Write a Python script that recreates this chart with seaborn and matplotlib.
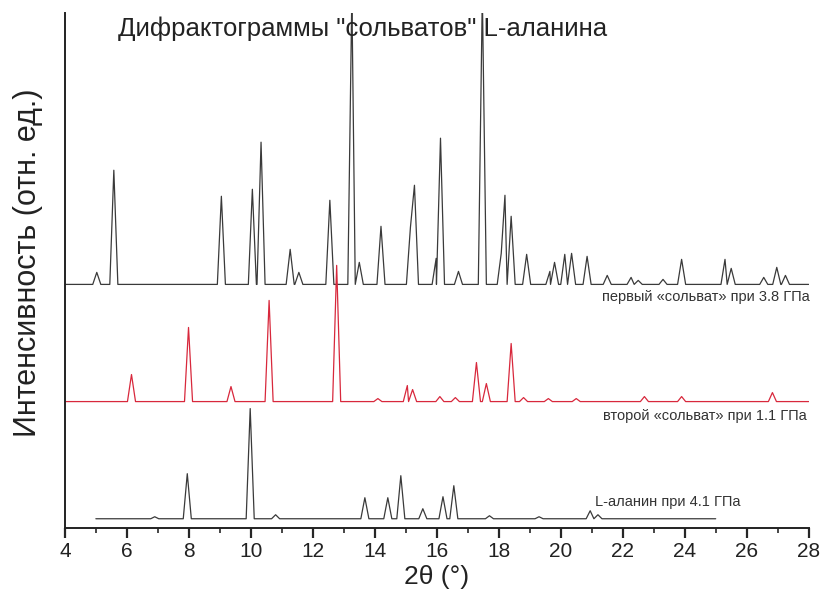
import pandas as pd
import matplotlib.pyplot as plt
import seaborn as sns
from matplotlib.ticker import MultipleLocator

# peak positions (2theta, deg) and heights (arb. units)
pos_first = [5.03, 5.58, 9.05, 10.05, 10.33, 11.27, 11.55, 12.55, 13.26, 13.5, 14.2,
             15.15, 15.28, 15.98, 16.12, 16.7, 17.47, 18.08, 18.2, 18.4, 18.9,
             19.65, 19.8, 20.13, 20.35, 20.85, 21.5, 22.27, 22.5, 23.3, 23.9,
             25.3, 25.5, 26.55, 26.97, 27.25]
int_first = [12, 114, 88, 95, 142, 35, 12, 84, 290, 22, 58,
             57, 99, 26, 146, 13, 290, 31, 89, 68, 30,
             13, 22, 30, 31, 28, 9, 7, 4, 5, 25,
             25, 16, 7, 17, 9]

pos_second = [6.15, 7.99, 9.36, 10.59, 12.77, 14.1, 15.05, 15.22, 16.1, 16.6,
              17.28, 17.6, 18.4, 18.8, 19.6, 20.5, 22.7, 23.9, 26.83]
int_second = [27, 74, 15, 101, 136, 3, 16, 12, 5, 4,
              39, 18, 58, 4, 3, 3, 5, 5, 9]

pos_third = [6.9, 7.95, 9.98, 10.8, 13.68, 14.42, 14.84, 15.55, 16.2, 16.55,
             17.7, 19.3, 20.95, 21.2]
int_third = [2, 45, 110, 4, 21, 21, 43, 10, 22, 33,
             3, 2, 8, 4]

# vertical offsets of the stacked patterns and their 2theta ranges
offsets = {"first": 243, "second": 126, "third": 9}
ranges = {"first": (4, 28), "second": (4, 28), "third": (5, 25)}
labels = {"first": "первый «сольват» при 3.8 ГПа",
          "second": "второй «сольват» при 1.1 ГПа",
          "third": "L-аланин при 4.1 ГПа"}


def profile(name, pos, hgt, w=0.13):
    lo, hi = ranges[name]
    base = offsets[name]
    xs, ys = [lo], [base]
    for i, (p, h) in enumerate(zip(pos, hgt)):
        if p - w > xs[-1] + 1e-6:
            xs.append(p - w)
            ys.append(base)
        xs.append(p)
        ys.append(base + h)
        nxt = pos[i + 1] if i + 1 < len(pos) else hi + 1
        if nxt - p > 2 * w:
            xs.append(p + w)
            ys.append(base)
    xs.append(hi)
    ys.append(base)
    return pd.DataFrame({"x": xs, "y": ys, "trace": name})


df = pd.concat([profile("first", pos_first, int_first),
                profile("second", pos_second, int_second),
                profile("third", pos_third, int_third)])

sns.set_style("ticks")
plt.rcParams["font.family"] = ["Liberation Sans", "DejaVu Sans"]

fig = plt.figure(figsize=(8.21, 5.91), dpi=100)
ax = fig.add_axes([0.079, 0.107, 0.906, 0.871])

sns.lineplot(data=df, x="x", y="y", hue="trace", estimator=None, sort=False,
             palette={"first": "#3a3a3a", "second": "#d8283c", "third": "#3a3a3a"},
             linewidth=0.9, legend=False, ax=ax)

ax.set_xlim(4, 28)
ax.set_ylim(0, 514)
ax.xaxis.set_major_locator(MultipleLocator(2))
ax.xaxis.set_minor_locator(MultipleLocator(1))
ax.tick_params(axis="x", which="major", length=7, width=1.6, labelsize=15,
               direction="out", pad=3, labelcolor="#222222")
ax.tick_params(axis="x", which="minor", length=3.5, width=1.2, direction="out")
ax.set_yticks([])
sns.despine(ax=ax)
for s in ["left", "bottom"]:
    ax.spines[s].set_linewidth(1.4)
    ax.spines[s].set_color("#222222")

ax.set_xlabel("2θ (°)", fontsize=19, color="#222222")
ax.xaxis.set_label_coords(0.5, -0.072)
ax.set_ylabel("Интенсивность (отн. ед.)", fontsize=22, color="#222222")
ax.yaxis.set_label_coords(-0.03, 0.515)

ax.text(0.40, 0.97, 'Дифрактограммы "сольватов" L-аланина', transform=ax.transAxes,
        ha="center", va="center", fontsize=18.5, color="#222222")
ax.text(28.05, offsets["first"] - 13, labels["first"], ha="right", va="center",
        fontsize=10.5, color="#333333")
ax.text(27.95, offsets["second"] - 14, labels["second"], ha="right", va="center",
        fontsize=10.5, color="#333333")
ax.text(21.1, offsets["third"] + 17, labels["third"], ha="left", va="center",
        fontsize=10.5, color="#333333")

plt.savefig("out.png", dpi=100)
